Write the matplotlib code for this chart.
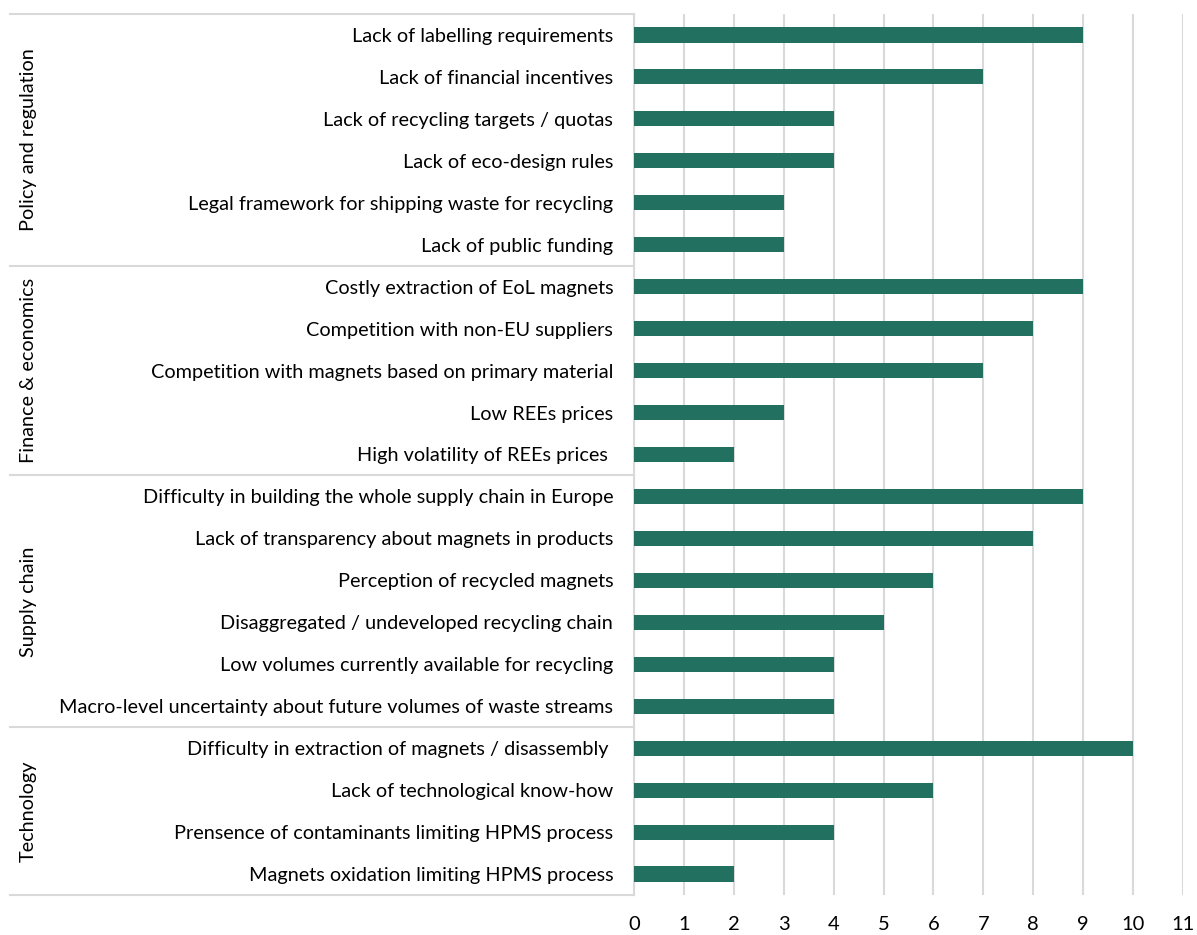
import matplotlib
matplotlib.use("Agg")
import matplotlib.pyplot as plt
import matplotlib.transforms as mtransforms

plt.rcParams['font.family'] = ['Lato', 'DejaVu Sans']

groups = ["Policy and regulation", "Finance & economics", "Supply chain", "Technology"]

policy_labels = [
    "Lack of labelling requirements",
    "Lack of financial incentives",
    "Lack of recycling targets / quotas",
    "Lack of eco-design rules",
    "Legal framework for shipping waste for recycling",
    "Lack of public funding",
]
policy_values = [9, 7, 4, 4, 3, 3]

finance_labels = [
    "Costly extraction of EoL magnets",
    "Competition with non-EU suppliers",
    "Competition with magnets based on primary material",
    "Low REEs prices",
    "High volatility of REEs prices ",
]
finance_values = [9, 8, 7, 3, 2]

supply_labels = [
    "Difficulty in building the whole supply chain in Europe",
    "Lack of transparency about magnets in products",
    "Perception of recycled magnets",
    "Disaggregated / undeveloped recycling chain",
    "Low volumes currently available for recycling",
    "Macro-level uncertainty about future volumes of waste streams",
]
supply_values = [9, 8, 6, 5, 4, 4]

tech_labels = [
    "Difficulty in extraction of magnets / disassembly ",
    "Lack of technological know-how",
    "Prensence of contaminants limiting HPMS process",
    "Magnets oxidation limiting HPMS process",
]
tech_values = [10, 6, 4, 2]

group_labels = [policy_labels, finance_labels, supply_labels, tech_labels]
group_values = [policy_values, finance_values, supply_values, tech_values]

labels = [l for g in group_labels for l in g]
values = [v for g in group_values for v in g]
positions = list(range(len(labels)))

bar_color = "#22705F"
grid_color = "#D9D9D9"

fig = plt.figure(figsize=(11.97, 9.35), dpi=100)
ax = fig.add_axes([634 / 1197, 1 - 895 / 935, (1183 - 634) / 1197, (895 - 14) / 935])

ax.barh(positions, values, height=0.36, color=bar_color, zorder=3)
ax.set_ylim(len(labels) - 0.5, -0.5)
ax.set_xlim(0, 11)
ax.set_xticks(range(0, 12))
ax.set_yticks(positions)
ax.set_yticklabels(labels, fontsize=14.3)
ax.tick_params(axis='y', length=0, pad=15)
ax.tick_params(axis='x', length=0, pad=15, labelsize=14.5)
ax.xaxis.grid(True, color=grid_color, linewidth=1.5, zorder=0)

for side in ["top", "right", "bottom"]:
    ax.spines[side].set_visible(False)
ax.spines["left"].set_color(grid_color)
ax.spines["left"].set_linewidth(1.5)

# group separators across the label area
trans = mtransforms.blended_transform_factory(ax.transAxes, ax.transData)
x_left = (10 - 634) / (1183 - 634)
start = 0
bounds = [-0.5]
for g in group_labels:
    start += len(g)
    bounds.append(start - 0.5)
for b in bounds:
    ax.plot([x_left, 0], [b, b], transform=trans, color=grid_color,
            linewidth=1.5, clip_on=False, zorder=1)

# rotated group names
x_group = (28 - 634) / (1183 - 634)
for name, lo, hi in zip(groups, bounds[:-1], bounds[1:]):
    ax.text(x_group, (lo + hi) / 2, name, transform=trans, rotation=90,
            ha="center", va="center", fontsize=14.3)

fig.savefig("out.png", dpi=100)
